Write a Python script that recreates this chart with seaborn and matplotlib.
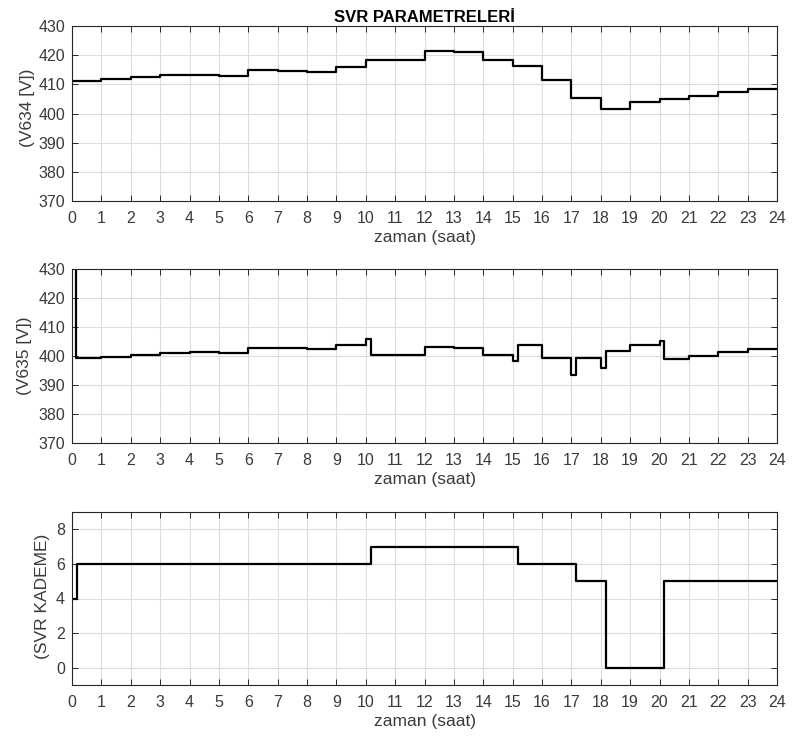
import numpy as np
import pandas as pd
import matplotlib
matplotlib.use("Agg")
import matplotlib.pyplot as plt
import seaborn as sns

# ---- data ----
v634_t = [0, 1, 2, 3, 4, 5, 6, 7, 8, 9, 10, 11, 12, 13, 14, 15, 16, 17, 18, 19, 20, 21, 22, 23]
v634_v = [411.3, 411.7, 412.5, 413.1, 413.3, 412.7, 414.8, 414.7, 414.3, 416.1, 418.2, 418.2,
          421.3, 421.0, 418.3, 416.2, 411.5, 405.3, 401.5, 403.8, 405.1, 405.9, 407.5, 408.5]

v635_t = [0, 0.15, 1, 2, 3, 4, 5, 6, 7, 8, 9, 10, 10.17, 12, 13, 14, 15, 15.17, 16, 17, 17.17,
          18, 18.17, 19, 20, 20.17, 21, 22, 23]
v635_v = [440, 399.2, 399.6, 400.5, 401.0, 401.3, 400.9, 402.7, 402.6, 402.4, 403.7, 406.0, 400.2,
          403.2, 402.8, 400.5, 398.3, 403.9, 399.4, 393.5, 399.2, 395.7, 401.6, 403.8, 405.2,
          399.1, 399.9, 401.5, 402.5]

svr_t = [0, 0.17, 10.17, 15.17, 17.17, 18.17, 20.17]
svr_v = [4, 6, 7, 6, 5, 0, 5]

t_end = 24
xticks = list(range(0, 25))

title = "SVR PARAMETRELERİ"
xlabel = "zaman (saat)"
ylabels = ["(V634 [V])", "(V635 [V])", "(SVR KADEME)"]

sns.set_theme(style="whitegrid")
plt.rcParams['font.family'] = ['Liberation Sans', 'DejaVu Sans']

fig = plt.figure(figsize=(7.92, 7.36), dpi=100)
W, H = 792, 736
def ax_rect(l, r, t, b):
    return [l / W, 1 - b / H, (r - l) / W, (b - t) / H]

axes = [fig.add_axes(ax_rect(72, 777, 26, 201)),
        fig.add_axes(ax_rect(72, 777, 269, 443)),
        fig.add_axes(ax_rect(72, 777, 512, 685))]

series = [(v634_t, v634_v), (v635_t, v635_v), (svr_t, svr_v)]
ylims = [(370, 430), (370, 430), (-1, 9)]
yticks = [np.arange(370, 431, 10), np.arange(370, 431, 10), np.arange(0, 9, 2)]
ylab_x = [35, 32, 50]
ylab_y = [0.535, 0.5, 0.51]

txtcol = '#3a3a3a'
for i, ax in enumerate(axes):
    t, v = series[i]
    df = pd.DataFrame({'t': list(t) + [t_end], 'v': list(v) + [v[-1]]})
    sns.lineplot(data=df, x='t', y='v', ax=ax, drawstyle='steps-post', color='black',
                 linewidth=1.6, estimator=None, sort=False)
    ax.set_xlim(0, 24)
    ax.set_ylim(*ylims[i])
    ax.set_xticks(xticks)
    ax.set_yticks(yticks[i])
    ax.set_facecolor('white')
    ax.grid(True, color='#dcdcdc', linewidth=0.8)
    for s in ax.spines.values():
        s.set_color('#262626')
        s.set_linewidth(0.8)
        s.set_visible(True)
    ax.tick_params(direction='in', length=4, width=0.7, color='#262626',
                   top=True, right=True, bottom=True, left=True,
                   labelsize=11.5, labelcolor=txtcol)
    ax.tick_params(axis='x', pad=7)
    ax.tick_params(axis='y', pad=5)
    ax.set_xlabel(xlabel, fontsize=12.5, color=txtcol, labelpad=3)
    ax.set_ylabel(ylabels[i], fontsize=12.5, color=txtcol)

for i, ax in enumerate(axes):
    ax.yaxis.set_label_coords((ylab_x[i] - 72) / 705, ylab_y[i])

axes[0].set_title(title, fontsize=12, fontweight='bold', color='black', pad=3)

fig.savefig('out.png', dpi=100)
